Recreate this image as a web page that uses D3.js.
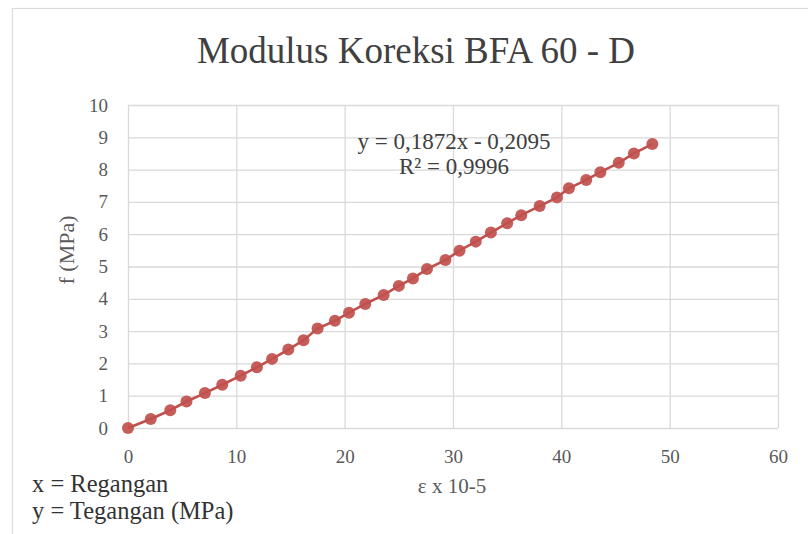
<!DOCTYPE html>
<html><head><meta charset="utf-8">
<script src="https://cdn.jsdelivr.net/npm/d3@7"></script>
<style>html,body{margin:0;padding:0;background:#fff;}svg{display:block;}</style>
</head><body>
<svg id="c" width="808" height="534"></svg>
<script>
const strainX = [0,2.1,3.9,5.4,7.1,8.7,10.4,11.9,13.3,14.8,16.2,17.5,19.1,20.4,21.9,23.6,25.0,26.3,27.6,29.3,30.6,32.1,33.5,35.0,36.3,38.0,39.6,40.7,42.3,43.6,45.3,46.7,48.4];
const stressY = [0,0.28,0.55,0.82,1.08,1.34,1.62,1.88,2.14,2.43,2.72,3.08,3.32,3.57,3.84,4.12,4.40,4.63,4.92,5.20,5.49,5.77,6.05,6.34,6.59,6.87,7.14,7.42,7.68,7.92,8.21,8.50,8.79];
const xTicks = [0,10,20,30,40,50,60];
const yTicks = [0,1,2,3,4,5,6,7,8,9,10];
const titleText = "Modulus Koreksi BFA 60 - D";
const xTitle = "ε x 10-5";
const yTitle = "f (MPa)";
const eqLines = ["y = 0,1872x - 0,2095", "R² = 0,9996"];
const noteLines = ["x = Regangan", "y = Tegangan (MPa)"];

const svg = d3.select("#c");
const font = "'Liberation Serif','Times New Roman',serif";
const x = d3.scaleLinear().domain([0,60]).range([128,778]);
const y = d3.scaleLinear().domain([0,10]).range([428,105]);

// outer chart border
svg.append("rect").attr("x",12.5).attr("y",8.5).attr("width",820).attr("height",560)
  .attr("fill","none").attr("stroke","#dcdcdc").attr("stroke-width",1.2);

// grid
const gx = svg.append("g").attr("transform","translate(0,428)")
  .call(d3.axisBottom(x).tickValues(xTicks).tickSize(-323).tickFormat(d=>d).tickPadding(22));
const gy = svg.append("g").attr("transform","translate(128,0)")
  .call(d3.axisLeft(y).tickValues(yTicks).tickSize(-650).tickFormat(d=>d).tickPadding(20));
[gx,gy].forEach(g=>{
  g.select(".domain").remove();
  g.selectAll(".tick line").attr("stroke","#d9d9d9").attr("stroke-width",1.3);
  g.selectAll(".tick text").attr("fill","#595959").style("font-family",font).style("font-size","19px");
});

// title
svg.append("text").attr("x",416).attr("y",63).attr("text-anchor","middle")
  .style("font-family",font).style("font-size","37px").attr("fill","#404040").text(titleText);

// axis titles
svg.append("text").attr("x",452).attr("y",493).attr("text-anchor","middle")
  .style("font-family",font).style("font-size","21px").attr("fill","#595959").text(xTitle);
svg.append("text").attr("transform","translate(74,250) rotate(-90)").attr("text-anchor","middle")
  .style("font-family",font).style("font-size","22px").attr("fill","#595959").text(yTitle);

// series
const pts = strainX.map((v,i)=>[v,stressY[i]]);
svg.append("path").datum(pts)
  .attr("d", d3.line().x(d=>x(d[0])).y(d=>y(d[1])))
  .attr("fill","none").attr("stroke","#C0504D").attr("stroke-width",2.6);
svg.append("g").selectAll("circle").data(pts).join("circle")
  .attr("cx",d=>x(d[0])).attr("cy",d=>y(d[1])).attr("r",6)
  .attr("fill","#C0504D").attr("opacity",0.92);

// equation
svg.append("g").selectAll("text").data(eqLines).join("text")
  .attr("x",454).attr("y",(d,i)=>149+i*25).attr("text-anchor","middle")
  .style("font-family",font).style("font-size","23px").attr("fill","#404040").text(d=>d);

// notes
svg.append("g").selectAll("text").data(noteLines).join("text")
  .attr("x",32).attr("y",(d,i)=>492+i*27)
  .style("font-family",font).style("font-size","24.5px").attr("fill","#333").text(d=>d);
</script>
</body></html>
